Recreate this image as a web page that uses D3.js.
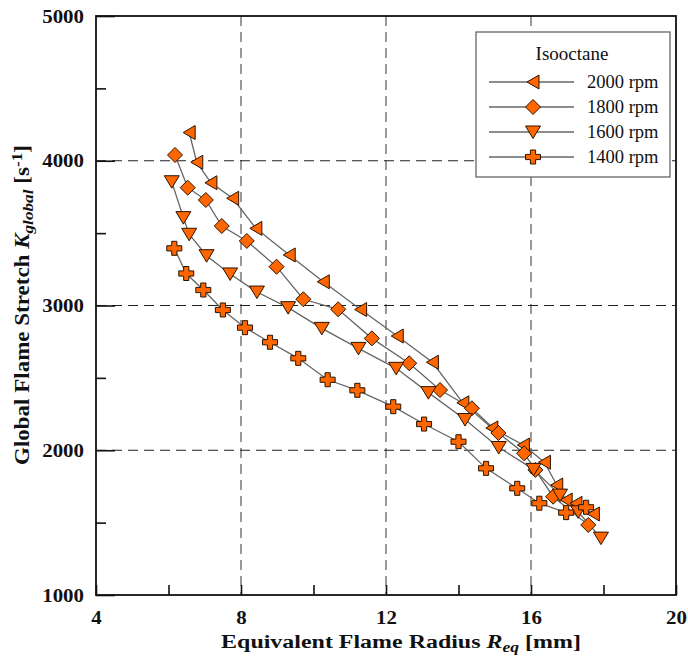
<!DOCTYPE html>
<html><head><meta charset="utf-8">
<script src="https://cdn.jsdelivr.net/npm/d3@7"></script>
<style>body{margin:0;background:#fff}svg{display:block}text{font-family:"Liberation Serif","Times New Roman",serif}</style>
</head><body><svg id="c" width="688" height="657"></svg>
<script>
// ---- data ----
const seriesNames = ["2000 rpm","1800 rpm","1600 rpm","1400 rpm"];
const rpm2000 = [[6.57,4195],[6.78,3990],[7.17,3848],[7.77,3741],[8.41,3533],[9.33,3349],[10.27,3164],[11.30,2972],[12.31,2789],[13.28,2608],[14.12,2328],[14.92,2154],[15.79,2036],[16.37,1917],[16.71,1760],[16.97,1656],[17.24,1633],[17.72,1560]];
const rpm1800 = [[6.18,4040],[6.53,3814],[7.03,3729],[7.47,3549],[8.16,3446],[8.98,3268],[9.72,3043],[10.68,2974],[11.61,2773],[12.64,2601],[13.49,2416],[14.37,2290],[15.10,2119],[15.81,1979],[16.12,1864],[16.61,1679],[17.58,1484]];
const rpm1600 = [[6.09,3855],[6.41,3607],[6.57,3492],[7.05,3344],[7.70,3218],[8.44,3093],[9.30,2985],[10.23,2842],[11.24,2704],[12.28,2566],[13.17,2398],[14.18,2212],[15.11,2019],[16.07,1868],[16.80,1690],[17.30,1575],[17.93,1393]];
const rpm1400 = [[6.16,3395],[6.49,3221],[6.96,3107],[7.50,2969],[8.11,2847],[8.80,2746],[9.58,2635],[10.39,2487],[11.21,2414],[12.20,2301],[13.05,2181],[14.00,2059],[14.76,1875],[15.62,1737],[16.23,1634],[16.97,1569],[17.52,1606]];
const xTicks = [4,6,8,10,12,14,16,18,20];
const xLabels = [4,8,12,16,20];
const yMinorTicks = [1500,2500,3500,4500];
const yMajorTicks = [1000,2000,3000,4000,5000];
const xGrid = [8,12,16];
const yGrid = [2000,3000,4000];
const legendTitle = "Isooctane";

const seriesData = [rpm2000, rpm1800, rpm1600, rpm1400];
const markerTypes = ["triLeft","diamond","triDown","plus"];
const SERIF = "'Liberation Serif','Times New Roman',serif";

const svg = d3.select("#c");
const L=96,R=676,T=16,B=595;
const x = d3.scaleLinear().domain([4,20]).range([L,R]);
const y = d3.scaleLinear().domain([1000,5000]).range([B,T]);

svg.append("rect").attr("width",688).attr("height",657).attr("fill","#fff");

// grid
svg.append("g").selectAll("line").data(xGrid).join("line")
  .attr("x1",d=>x(d)).attr("x2",d=>x(d)).attr("y1",T).attr("y2",B)
  .attr("stroke","#808080").attr("stroke-width",1.6).attr("stroke-dasharray","10,6");
svg.append("g").selectAll("line").data(yGrid).join("line")
  .attr("y1",d=>y(d)).attr("y2",d=>y(d)).attr("x1",L).attr("x2",R)
  .attr("stroke","#222").attr("stroke-width",1.2).attr("stroke-dasharray","10,6");

// axes
const fmtX = d => xLabels.includes(d) ? d : "";
const gx = svg.append("g").attr("transform",`translate(0,${B})`)
  .call(d3.axisBottom(x).tickValues(xTicks).tickSizeInner(-10).tickSizeOuter(0).tickPadding(16).tickFormat(fmtX));
const gy1 = svg.append("g").attr("transform",`translate(${L},0)`)
  .call(d3.axisLeft(y).tickValues(yMinorTicks).tickSizeInner(-10).tickSizeOuter(0).tickFormat(""));
const gy2 = svg.append("g").attr("transform",`translate(${L},0)`)
  .call(d3.axisLeft(y).tickValues(yMajorTicks).tickSizeInner(-19).tickSizeOuter(0).tickPadding(12).tickFormat(d3.format("d")));
[gx,gy1,gy2].forEach(g=>{
  g.select(".domain").remove();
  g.selectAll(".tick line").attr("stroke","#111").attr("stroke-width",1.6);
  g.selectAll(".tick text").style("font-family",SERIF).attr("font-weight","bold").attr("font-size",19).attr("fill","#111");
});
gx.selectAll(".tick text").attr("transform","scale(1.1,1)");
gy2.selectAll(".tick text").attr("x",-12/1.1).attr("transform","scale(1.1,1)");
svg.append("rect").attr("x",L).attr("y",T).attr("width",R-L).attr("height",B-T)
  .attr("fill","none").attr("stroke","#111").attr("stroke-width",1.8);

// markers
function markerPath(t){
  switch(t){
    case "triLeft": return "M-6,0L6,-7L6,7Z";
    case "triDown": return "M-7.5,-6L7.5,-6L0,6.5Z";
    case "diamond": return "M0,-7.5L7.5,0L0,7.5L-7.5,0Z";
    case "plus": return "M-2.6,-7L2.6,-7L2.6,-2.6L7.5,-2.6L7.5,2.6L2.6,2.6L2.6,7L-2.6,7L-2.6,2.6L-7.5,2.6L-7.5,-2.6L-2.6,-2.6Z";
  }
}
const line = d3.line().x(d=>x(d[0])).y(d=>y(d[1]));
const plot = svg.append("g");
seriesData.forEach((s)=>{
  plot.append("path").attr("d",line(s)).attr("fill","none").attr("stroke","#666").attr("stroke-width",1.3);
});
seriesData.forEach((s,i)=>{
  plot.append("g").selectAll("path").data(s).join("path")
    .attr("transform",d=>`translate(${x(d[0])},${y(d[1])})`)
    .attr("d",markerPath(markerTypes[i]))
    .attr("fill","#FF6600").attr("stroke","#2a1400").attr("stroke-width",1);
});

// legend
const lg = svg.append("g");
lg.append("rect").attr("x",476).attr("y",32).attr("width",194).attr("height",145)
  .attr("fill","#fff").attr("stroke","#666").attr("stroke-width",1.3);
lg.append("text").attr("x",572).attr("y",60).attr("text-anchor","middle").style("font-family",SERIF)
  .attr("font-size",19).attr("fill","#111").text(legendTitle);
seriesNames.forEach((n,i)=>{
  const yy = 82 + i*25;
  lg.append("line").attr("x1",489).attr("x2",574).attr("y1",yy).attr("y2",yy).attr("stroke","#666").attr("stroke-width",1.3);
  lg.append("path").attr("transform",`translate(533,${yy})`).attr("d",markerPath(markerTypes[i]))
    .attr("fill","#FF6600").attr("stroke","#2a1400").attr("stroke-width",1);
  lg.append("text").attr("x",587).attr("y",yy+6).style("font-family",SERIF).attr("font-size",18.5).attr("fill","#111").text(n);
});

// axis titles
const xt = svg.append("text").attr("transform","translate(401,648) scale(1.26,1)").attr("text-anchor","middle")
  .style("font-family",SERIF).attr("font-size",19).attr("font-weight","bold").attr("fill","#111");
xt.append("tspan").text("Equivalent Flame Radius ");
xt.append("tspan").attr("font-style","italic").text("R");
xt.append("tspan").attr("font-style","italic").attr("font-size",14).attr("dy",4).text("eq");
xt.append("tspan").attr("dy",-4).text(" [mm]");

const yt = svg.append("text").attr("transform","translate(29,305) rotate(-90) scale(1.15,1)").attr("text-anchor","middle")
  .style("font-family",SERIF).attr("font-size",20).attr("font-weight","bold").attr("fill","#111");
yt.append("tspan").text("Global Flame Stretch ");
yt.append("tspan").attr("font-style","italic").text("K");
yt.append("tspan").attr("font-style","italic").attr("font-size",15).attr("dy",4).text("global");
yt.append("tspan").attr("dy",-4).text(" [s");
yt.append("tspan").attr("font-size",15).attr("dy",-7).text("-1");
yt.append("tspan").attr("dy",7).text("]");
</script></body></html>
